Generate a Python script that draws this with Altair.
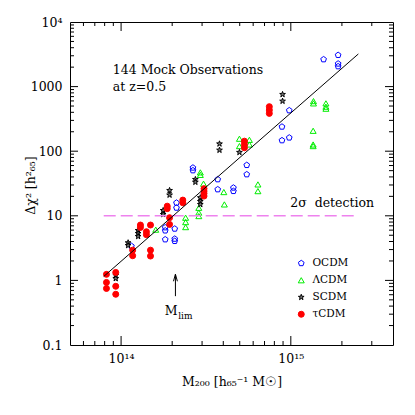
import altair as alt
import pandas as pd

# ---------------- data ----------------
models = ["OCDM", "ΛCDM", "SCDM", "τCDM"]

ocdm_m = [1.15e14, 1.82e14, 1.82e14, 1.82e14, 2.07e14, 2.07e14, 2.07e14, 2.12e14, 2.12e14,
          2.65e14, 2.65e14, 3.71e14, 3.71e14, 4.59e14, 4.59e14, 5.50e14, 5.50e14,
          8.87e14, 8.87e14, 9.79e14, 9.79e14, 1.56e15, 1.90e15, 1.90e15, 1.90e15]
ocdm_chi = [3.40, 6.6, 5.9, 4.3, 6.3, 4.4, 4.06, 15.9, 13.3,
            55.5, 50.4, 36.6, 25.6, 27.2, 24.1, 60.9, 43.7,
            239, 147, 428, 162, 2636, 3073, 2262, 2055]

lcdm_m = [1.60e14, 2.40e14, 2.40e14, 2.40e14, 2.87e14, 2.87e14, 2.87e14, 2.93e14, 2.93e14,
          3.06e14, 4.03e14, 4.06e14, 4.98e14, 4.98e14, 5.70e14, 5.70e14, 6.40e14, 6.40e14,
          1.36e15, 1.36e15, 1.61e15, 1.61e15, 1.61e15, 1.354e15, 1.354e15, 1.354e15]
lcdm_chi = [6.1, 9.35, 7.99, 6.68, 13.3, 11.2, 9.9, 47, 43,
            31.4, 23.3, 15.0, 156, 120, 150, 127, 30.6, 24.1,
            596, 550, 550, 489, 455, 207, 127, 120]

scdm_m = [0.93e14, 0.93e14, 1.10e14, 1.10e14, 1.26e14, 1.26e14, 1.26e14, 1.77e14, 1.77e14,
          1.93e14, 1.93e14, 2.74e14, 2.74e14, 2.93e14, 2.93e14, 2.93e14, 3.80e14, 3.80e14,
          4.98e14, 8.94e14, 8.94e14]
scdm_chi = [1.20, 1.07, 3.83, 3.48, 5.94, 5.34, 4.80, 12.1, 10.5,
            24.7, 21.0, 36.6, 33.2, 19.1, 16.7, 15.0, 130, 104,
            96, 757, 596]

tcdm_m = [0.82e14, 0.82e14, 0.82e14, 0.93e14, 0.93e14, 0.93e14, 1.17e14, 1.17e14,
          1.30e14, 1.30e14, 1.41e14, 1.41e14, 1.49e14, 1.49e14, 1.49e14,
          1.87e14, 1.87e14, 1.93e14, 1.93e14, 2.31e14, 2.31e14,
          3.08e14, 3.08e14, 3.08e14, 3.08e14, 5.33e14, 5.33e14, 5.33e14,
          7.47e14, 7.47e14, 7.47e14]
tcdm_chi = [1.24, 0.93, 0.75, 1.33, 0.81, 0.61, 2.94, 2.41,
            7.2, 6.6, 5.67, 5.10, 7.2, 2.94, 2.38,
            14.1, 12.9, 9.35, 7.36, 17.5, 15.9,
            26.3, 24.1, 22.2, 20.2, 143, 127, 113,
            489, 433, 385]

fit_m = [7.9e13, 2.5e15]
fit_chi = [1.15, 3200]

det_m = [7.9e13, 2.45e15]
det_chi = [10, 10]

ann_text = ["144 Mock Observations", "at z=0.5", "2σ\u00a0 detection"]
ann_m = [8.94e13, 8.94e13, 9.92e14]
ann_chi = [1545, 843, 13.5]

mlim_m = 2.09e14
mlim_lo, mlim_hi = 0.57, 1.24

x_major = [1e14, 1e15]
x_minor = [6e13, 7e13, 8e13, 9e13, 2e14, 3e14, 4e14, 5e14, 6e14, 7e14, 8e14, 9e14, 2e15, 3e15]
y_major = [1, 10, 100, 1000]
y_minor = [k * 10.0 ** n for n in range(-1, 4) for k in range(2, 10)]

# ---------------- styling ----------------
colors = ["#0000ff", "#00ee00", "#000000", "#ff0000"]
fills = ["transparent", "transparent", "#777777", "#ff0000"]
PENT = "M0,-1L0.951,-0.309L0.588,0.809L-0.588,0.809L-0.951,-0.309Z"
STAR = ("M0,-1L0.235,-0.324L0.951,-0.309L0.380,0.124L0.588,0.809L0,0.4"
        "L-0.588,0.809L-0.380,0.124L-0.951,-0.309L-0.235,-0.324Z")
shapes = [PENT, "triangle-up", STAR, "circle"]
FONT = "DejaVu Serif"
W = H = 323

rows = []
for name, ms, cs in [("OCDM", ocdm_m, ocdm_chi), ("ΛCDM", lcdm_m, lcdm_chi),
                     ("SCDM", scdm_m, scdm_chi), ("τCDM", tcdm_m, tcdm_chi)]:
    rows += [{"M": m, "chi2": c, "model": name} for m, c in zip(ms, cs)]
df = pd.DataFrame(rows)

xscale = alt.Scale(type="log", domain=[5e13, 4e15], nice=False)
yscale = alt.Scale(type="log", domain=[0.1, 1e4], nice=False)

leg = alt.Legend(title=None, orient="none", legendX=226, legendY=236,
                 labelFont=FONT, labelFontSize=10.5, labelColor="black",
                 symbolSize=36, rowPadding=6, labelOffset=6, symbolStrokeWidth=1)

xaxis = alt.Axis(values=x_major, labelExpr="datum.value < 5e14 ? '10¹⁴' : '10¹⁵'",
                 ticks=False, domain=False, grid=False, labelFont=FONT, labelFontSize=12.5,
                 labelColor="black", labelPadding=7, labelOverlap=False, labelFlush=False,
                 title="M₂₀₀ [h₆₅⁻¹ M☉]", titleFont=FONT, titleFontSize=12.5,
                 titleFontWeight="normal", titleColor="black", titleY=36, titleBaseline="middle")
yaxis = alt.Axis(values=[0.1, 1, 10, 100, 1000, 10000],
                 labelExpr="datum.value > 5000 ? '10⁴' : (datum.value < 0.5 ? '0.1' : format(datum.value, 'd'))",
                 ticks=False, domain=False, grid=False, labelFont=FONT, labelFontSize=12.5,
                 labelColor="black", labelPadding=8, labelOverlap=False,
                 title="Δχ² [h²₆₅]", titleFont=FONT, titleFontSize=12.5, titleFontWeight="normal",
                 titleColor="black", titleX=-40, titleY=163, titleBaseline="middle")

X = alt.X("M:Q", scale=xscale)
Y = alt.Y("chi2:Q", scale=yscale)

points = alt.Chart(df).mark_point(size=36, strokeWidth=1, opacity=1, fillOpacity=1, filled=False).encode(
    x=alt.X("M:Q", scale=xscale, axis=xaxis),
    y=alt.Y("chi2:Q", scale=yscale, axis=yaxis),
    stroke=alt.Stroke("model:N", scale=alt.Scale(domain=models, range=colors), legend=leg),
    shape=alt.Shape("model:N", scale=alt.Scale(domain=models, range=shapes), legend=leg),
    fill=alt.Fill("model:N", scale=alt.Scale(domain=models, range=fills), legend=leg),
)

fit = alt.Chart(pd.DataFrame({"M": fit_m, "chi2": fit_chi})).mark_line(
    color="black", strokeWidth=1).encode(x=X, y=Y)

det = alt.Chart(pd.DataFrame({"M": det_m, "chi2": det_chi})).mark_line(
    color="#ee82ee", strokeWidth=1.6, strokeDash=[12, 5]).encode(x=X, y=Y)

ann = alt.Chart(pd.DataFrame({"M": ann_m, "chi2": ann_chi, "t": ann_text})).mark_text(
    align="left", baseline="alphabetic", font=FONT, fontSize=12.5, color="black").encode(
    x=X, y=Y, text="t:N")

mtxt = alt.Chart(pd.DataFrame({"M": [1.806e14], "chi2": [0.287], "t": ["M"]})).mark_text(
    align="left", baseline="alphabetic", font=FONT, fontSize=12.5, color="black").encode(
    x=X, y=Y, text="t:N")
ltxt = alt.Chart(pd.DataFrame({"M": [2.17e14], "chi2": [0.25], "t": ["lim"]})).mark_text(
    align="left", baseline="alphabetic", font=FONT, fontSize=9, color="black").encode(
    x=X, y=Y, text="t:N")

arrow_shaft = alt.Chart(pd.DataFrame({"M": [mlim_m], "chi2": [mlim_lo], "hi": [mlim_hi]})).mark_rule(
    color="black", strokeWidth=1).encode(x=X, y=Y, y2="hi:Q")
arrow_head = alt.Chart(pd.DataFrame({"M": [mlim_m], "chi2": [1.10]})).mark_point(
    shape="M-0.55,1L0,-1L0.55,1", size=50, filled=False, color="black", strokeWidth=1, opacity=1).encode(
    x=X, y=Y)


def xticks(vals, L):
    base = alt.Chart(pd.DataFrame({"M": vals})).mark_rule(color="black", strokeWidth=1)
    return [base.encode(x=X, y=alt.value(H), y2=alt.value(H - L)),
            base.encode(x=X, y=alt.value(0), y2=alt.value(L))]


def yticks(vals, L):
    base = alt.Chart(pd.DataFrame({"chi2": vals})).mark_rule(color="black", strokeWidth=1)
    return [base.encode(y=Y, x=alt.value(0), x2=alt.value(L)),
            base.encode(y=Y, x=alt.value(W), x2=alt.value(W - L))]


layers = [points, det, fit, ann, mtxt, ltxt, arrow_shaft, arrow_head]
layers += xticks(x_major, 9) + xticks(x_minor, 4) + yticks(y_major, 8) + yticks(y_minor, 4)

chart = alt.layer(*layers).properties(
    width=W, height=H,
    autosize=alt.AutoSizeParams(type="none"),
    padding={"left": 62, "top": 14, "right": 14, "bottom": 62},
    background="white",
).configure_view(stroke="black", strokeWidth=1)

chart.save("out.html", embed_options={"renderer": "svg", "actions": False})
